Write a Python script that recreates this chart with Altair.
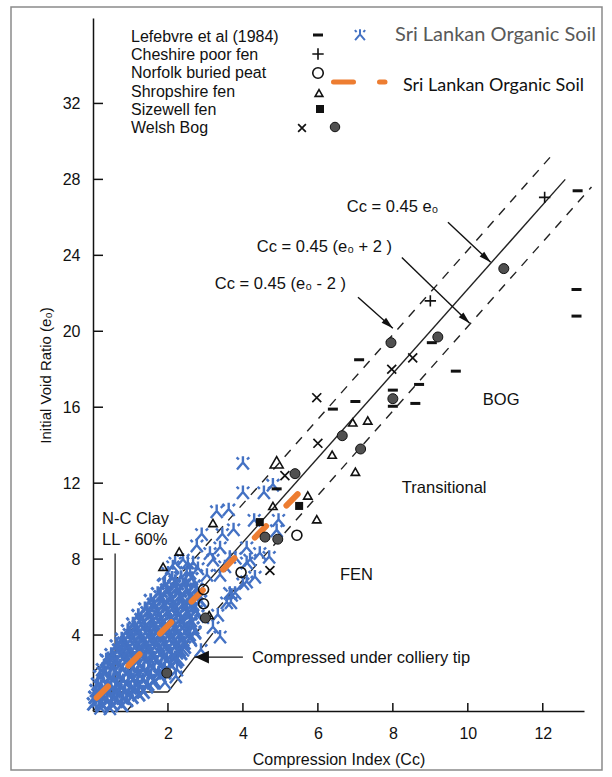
import math
import altair as alt
import pandas as pd

# ---------------- data ----------------
# Sri Lankan organic soil (blue markers): (Cc, e0)
sl_core = [
    (0.02, 0.38), (0.24, 0.31), (0.5, 0.36), (0.77, 0.3),
    (0.12, 0.53), (0.38, 0.57), (0.63, 0.52), (0.9, 0.56),
    (0.06, 0.72), (0.3, 0.66), (0.56, 0.74), (0.8, 0.68), (1.04, 0.73),
    (0.18, 0.88), (0.45, 0.92), (0.71, 0.87), (0.97, 0.91), (1.22, 0.86),
    (0.09, 1.08), (0.34, 1.02), (0.61, 1.1), (0.85, 1.03), (1.11, 1.07), (1.34, 1.0),
    (0.22, 1.27), (0.48, 1.22), (0.74, 1.28), (1.0, 1.23), (1.25, 1.26),
    (0.13, 1.42), (0.41, 1.48), (0.65, 1.43), (0.94, 1.5), (1.19, 1.44), (1.46, 1.41),
    (0.27, 1.6), (0.55, 1.65), (0.81, 1.59), (1.08, 1.64), (1.34, 1.61), (1.62, 1.58),
    (0.19, 1.83), (0.46, 1.78), (0.71, 1.85), (1.01, 1.79), (1.26, 1.84), (1.54, 1.77), (1.79, 1.82),
    (0.33, 2.02), (0.6, 1.97), (0.93, 2.03), (1.2, 1.98), (1.48, 2.04), (1.75, 1.99),
    (0.26, 2.18), (0.53, 2.24), (0.79, 2.17), (1.07, 2.23), (1.36, 2.19), (1.61, 2.25), (1.91, 2.2),
    (0.45, 2.42), (0.71, 2.37), (0.97, 2.43), (1.24, 2.38), (1.53, 2.41), (1.82, 2.36), (2.07, 2.42),
    (0.39, 2.63), (0.63, 2.57), (0.91, 2.64), (1.17, 2.58), (1.42, 2.62), (1.71, 2.56), (1.97, 2.63), (2.21, 2.6),
    (0.55, 2.78), (0.84, 2.83), (1.1, 2.77), (1.38, 2.82), (1.63, 2.79), (1.9, 2.84), (2.2, 2.8),
    (0.49, 2.97), (0.78, 3.03), (1.02, 2.98), (1.31, 3.04), (1.57, 2.99), (1.82, 3.02), (2.11, 2.96), (2.34, 3.03),
    (0.69, 3.22), (0.96, 3.17), (1.23, 3.23), (1.5, 3.18), (1.76, 3.21), (2.04, 3.16), (2.3, 3.22),
    (0.63, 3.43), (0.89, 3.37), (1.16, 3.42), (1.41, 3.38), (1.69, 3.44), (1.94, 3.39), (2.21, 3.42), (2.44, 3.36),
    (0.83, 3.58), (1.1, 3.63), (1.36, 3.57), (1.63, 3.62), (1.89, 3.59), (2.16, 3.64), (2.43, 3.58),
    (0.77, 3.78), (1.05, 3.83), (1.29, 3.77), (1.57, 3.82), (1.81, 3.79), (2.09, 3.84), (2.34, 3.78), (2.59, 3.81),
    (0.98, 4.02), (1.24, 3.97), (1.51, 4.03), (1.77, 3.98), (2.03, 4.01), (2.3, 3.96), (2.57, 4.02),
    (0.93, 4.23), (1.17, 4.18), (1.45, 4.22), (1.69, 4.17), (1.97, 4.24), (2.21, 4.19), (2.49, 4.21), (2.71, 4.16),
    (1.12, 4.38), (1.38, 4.43), (1.64, 4.37), (1.91, 4.42), (2.17, 4.39), (2.43, 4.44), (2.66, 4.38),
    (1.07, 4.58), (1.33, 4.63), (1.57, 4.57), (1.85, 4.62), (2.09, 4.59), (2.37, 4.64), (2.61, 4.58),
    (1.29, 4.82), (1.55, 4.77), (1.8, 4.83), (2.07, 4.78), (2.33, 4.81), (2.6, 4.76),
    (1.21, 5.03), (1.49, 4.98), (1.73, 5.02), (2.01, 4.97), (2.27, 5.04), (2.51, 4.99), (2.79, 5.01),
    (1.45, 5.18), (1.71, 5.23), (1.97, 5.17), (2.24, 5.22), (2.5, 5.19), (2.74, 5.24),
    (1.39, 5.38), (1.63, 5.43), (1.91, 5.37), (2.15, 5.42), (2.43, 5.38), (2.67, 5.41),
    (1.62, 5.62), (1.87, 5.57), (2.13, 5.63), (2.4, 5.58), (2.66, 5.61),
    (1.54, 5.82), (1.81, 5.77), (2.05, 5.83), (2.33, 5.78), (2.57, 5.81), (2.86, 5.79),
    (1.8, 6.02), (2.06, 5.97), (2.32, 6.03), (2.59, 5.98),
    (1.73, 6.18), (1.97, 6.23), (2.25, 6.17), (2.49, 6.22), (2.77, 6.19),
    (1.97, 6.38), (2.23, 6.43), (2.5, 6.37), (2.76, 6.42),
    (1.89, 6.62), (2.17, 6.57), (2.41, 6.63), (2.69, 6.58),
    (2.2, 6.82), (2.48, 6.77),
    (2.11, 6.98), (2.35, 7.03), (2.63, 6.97),
]
sl_scatter = [
    (4.0, 13.05), (4.0, 11.5), (4.56, 11.5), (4.8, 11.9), (3.3, 10.5), (3.62, 10.6),
    (4.3, 10.05), (4.95, 10.05), (2.9, 9.3), (3.45, 9.3), (3.75, 9.55), (4.1, 8.6),
    (4.45, 8.3), (4.7, 8.1), (4.9, 9.5), (2.67, 7.8), (3.2, 7.95), (3.52, 7.6),
    (3.8, 8.05), (4.19, 7.95), (2.59, 7.26), (3.04, 7.15), (2.77, 8.7), (3.12, 8.3),
    (3.39, 8.6), (3.65, 8.1), (4.1, 7.8), (4.32, 7.05), (4.0, 6.7), (3.65, 6.2),
    (3.57, 5.7), (3.33, 5.05), (3.2, 4.4), (2.4, 3.2), (2.24, 2.16), (1.6, 1.47),
    (1.44, 1.26), (2.13, 7.6), (2.5, 7.3), (2.4, 7.95), (1.92, 6.7), (2.53, 7.8),
    (2.8, 7.5), (3.79, 6.2), (3.68, 5.7), (3.39, 3.9), (2.88, 3.2), (2.72, 4.1),
    (2.27, 2.7), (2.21, 1.8), (1.92, 1.47), (0.21, 0.42), (0.05, 0.74), (0.35, 2.7),
    (0.27, 2.0), (0.75, 3.58), (2.0, 7.26), (2.19, 7.8), (4.1, 6.8), (3.7, 6.1),
    (3.39, 7.15), (2.24, 3.05), (0.2, 0.15), (0.45, 0.12),
]

# Published data sets
lef_x = [12.93, 12.9, 12.9, 9.04, 7.1, 9.68, 8.7, 8.0, 8.0, 8.6, 6.4, 7.0, 4.9]
lef_y = [27.4, 22.2, 20.8, 19.4, 18.5, 17.9, 17.2, 16.9, 16.05, 16.2, 15.9, 16.3, 11.7]
ches_x = [12.05, 9.0]
ches_y = [27.05, 21.6]
norf_x = [5.44, 3.95, 2.95, 2.95]
norf_y = [9.26, 7.3, 6.4, 5.65]
shrop_x = [6.93, 7.33, 6.38, 7.0, 5.73, 5.97, 4.8, 3.2, 2.3, 1.87, 3.1]
shrop_y = [15.2, 15.3, 13.5, 12.6, 11.35, 10.1, 10.8, 9.9, 8.4, 7.6, 5.05]
shrop_big_x = [4.9]
shrop_big_y = [13.1]
size_x = [5.5, 4.45]
size_y = [10.8, 9.95]
welx_x = [5.97, 8.53, 7.97, 6.0, 5.12, 4.72]
welx_y = [16.5, 18.6, 18.0, 14.1, 12.4, 7.4]
weld_x = [10.96, 7.95, 9.2, 8.0, 6.65, 7.14, 5.39, 4.59, 4.93, 3.0, 1.97]
weld_y = [23.3, 19.4, 19.7, 16.45, 14.5, 13.8, 12.5, 9.16, 9.05, 4.9, 2.0]

# Sri Lankan trend line (orange dashed)
orange_x = [0.1, 5.55]
orange_y = [0.7, 11.6]

# Reference lines (end points)
solid_x1, solid_y1, solid_x2, solid_y2 = [0.0], [0.0], [12.6], [28.0]
dash_x1 = [0.0, 0.9]
dash_y1 = [2.0, 0.0]
dash_x2 = [12.3, 13.3]
dash_y2 = [29.4, 27.6]
# colliery-tip boundary and N-C clay pointer
thin_x1 = [0.0, 2.0, 0.59]
thin_y1 = [1.0, 1.0, 8.3]
thin_x2 = [2.0, 3.2, 0.59]
thin_y2 = [1.0, 4.1, 1.0]

# annotation arrows (tail -> tip)
arr_x1 = [9.47, 8.24, 7.07, 4.0]
arr_y1 = [25.74, 23.89, 21.79, 2.84]
arr_x2 = [10.61, 10.05, 8.0, 2.72]
arr_y2 = [23.63, 20.42, 20.16, 2.84]
arr_big = [0, 0, 0, 1]

ann_text = ["Cc = 0.45 e₀", "Cc = 0.45 (e₀ + 2 )", "Cc = 0.45 (e₀ - 2 )", "BOG",
            "Transitional", "FEN", "Compressed under colliery tip", "N-C Clay", "LL - 60%"]
ann_x = [6.77, 4.37, 3.25, 10.4, 8.24, 6.59, 4.24, 0.24, 0.24]
ann_y = [26.53, 24.42, 22.47, 16.37, 11.74, 7.16, 2.79, 10.1, 9.0]

x_ticks = [2, 4, 6, 8, 10, 12]
y_ticks = [4, 8, 12, 16, 20, 24, 28, 32]

legend_labels = ["Lefebvre et al (1984)", "Cheshire poor fen", "Norfolk buried peat",
                 "Shropshire fen", "Sizewell fen", "Welsh Bog"]

# ---------------- layout ----------------
W, H = 491, 693
PADL, PADT = 93, 18
XMAX, YMAX = 13.1, 36.5
PXX = W / XMAX
PXY = H / YMAX
FONT = "Liberation Sans"
TXT = "#111111"
BLUE = "#4472C4"
ORANGE = "#ED7D31"


def px2x(px):
    return (px - PADL) / PXX


def px2y(py):
    return (PADT + H - py) / PXY


xscale = alt.Scale(domain=[0, XMAX], nice=False, zero=False)
yscale = alt.Scale(domain=[0, YMAX], nice=False, zero=False)
xaxis = alt.Axis(values=x_ticks, title="Compression Index (Cc)", ticks=False, grid=False,
                 domainColor="#111", domainWidth=1.5, labelFont=FONT, labelFontSize=16,
                 labelColor=TXT, labelPadding=14, titleFont=FONT, titleFontSize=16,
                 titleFontWeight="normal", titleColor=TXT, titlePadding=10)
yaxis = alt.Axis(values=y_ticks, title="Initial Void Ratio (e₀)", ticks=False, grid=False,
                 domainColor="#111", domainWidth=1.5, labelFont=FONT, labelFontSize=16,
                 labelColor=TXT, labelPadding=13, titleFont=FONT, titleFontSize=15,
                 titleFontWeight="normal", titleColor=TXT, titleX=-48, titleY=357,
                 titleBaseline="middle", titleAlign="center")

X = alt.X("x:Q", scale=xscale, axis=xaxis)
Y = alt.Y("y:Q", scale=yscale, axis=yaxis)


def pts(xs, ys):
    return pd.DataFrame({"x": xs, "y": ys})


def segs(x1, y1, x2, y2):
    return pd.DataFrame({"x": x1, "y": y1, "x2": x2, "y2": y2})


layers = []

# outer frame
frame = alt.Chart(pd.DataFrame({"a": [0]})).mark_rect(
    fillOpacity=0, stroke="#8a8a8a", strokeWidth=1.5
).encode(x=alt.value(11 - PADL), x2=alt.value(602 - PADL),
         y=alt.value(7 - PADT), y2=alt.value(770 - PADT))
layers.append(frame)

# inward ticks
xt = alt.Chart(segs(x_ticks, [0] * 6, x_ticks, [8 / PXY] * 6)).mark_rule(
    color="#111", strokeWidth=1.5).encode(x=X, y=Y, x2="x2:Q", y2="y2:Q")
yt = alt.Chart(segs([0] * 8, y_ticks, [10 / PXX] * 8, y_ticks)).mark_rule(
    color="#111", strokeWidth=1.5).encode(x=X, y=Y, x2="x2:Q", y2="y2:Q")
layers += [xt, yt]

# reference lines
layers.append(alt.Chart(segs(solid_x1, solid_y1, solid_x2, solid_y2)).mark_rule(
    color="#222", strokeWidth=1.4).encode(x=X, y=Y, x2="x2:Q", y2="y2:Q"))
layers.append(alt.Chart(segs(dash_x1, dash_y1, dash_x2, dash_y2)).mark_rule(
    color="#222", strokeWidth=1.4, strokeDash=[9, 8]).encode(x=X, y=Y, x2="x2:Q", y2="y2:Q"))
layers.append(alt.Chart(segs(thin_x1, thin_y1, thin_x2, thin_y2)).mark_rule(
    color="#222", strokeWidth=1.3).encode(x=X, y=Y, x2="x2:Q", y2="y2:Q"))

# Sri Lankan points
BLUE_SHAPE = ("M0,-0.95L0,-0.1M0,-0.1L-0.8,0.85M0,-0.1L0.8,0.85"
              "M-0.85,-0.8L-0.55,-0.5M0.85,-0.8L0.55,-0.5")
layers.append(alt.Chart(pts([p[0] for p in sl_core], [p[1] for p in sl_core])).mark_point(
    shape=BLUE_SHAPE, size=240, color=BLUE, strokeWidth=2.9, opacity=1, filled=False
).encode(x=X, y=Y))
layers.append(alt.Chart(pts([p[0] for p in sl_scatter], [p[1] for p in sl_scatter])).mark_point(
    shape=BLUE_SHAPE, size=220, color=BLUE, strokeWidth=2.4, opacity=1, filled=False
).encode(x=X, y=Y))

# orange trend
layers.append(alt.Chart(segs([orange_x[0]], [orange_y[0]], [orange_x[1]], [orange_y[1]])).mark_rule(
    color=ORANGE, strokeWidth=6, strokeDash=[16, 29], strokeCap="round"
).encode(x=X, y=Y, x2="x2:Q", y2="y2:Q"))

# black data markers
DASH_SHAPE = "M-1,-0.3H1V0.3H-1Z"
PLUS_SHAPE = "M-1,0H1M0,-1V1"
CROSS_SHAPE = "M-1,-1L1,1M-1,1L1,-1"


def black_layer(xs, ys, **kw):
    return alt.Chart(pts(xs, ys)).mark_point(opacity=1, **kw).encode(x=X, y=Y)


layers.append(black_layer(lef_x, lef_y, shape=DASH_SHAPE, size=100, filled=True, color="#111"))
layers.append(black_layer(ches_x, ches_y, shape=PLUS_SHAPE, size=130, filled=False, color="#111", strokeWidth=1.6))
layers.append(black_layer(norf_x, norf_y, shape="circle", size=100, filled=False, color="#111", strokeWidth=1.6))
layers.append(black_layer(shrop_x, shrop_y, shape="triangle-up", size=70, filled=False, color="#111", strokeWidth=1.6))
layers.append(black_layer(shrop_big_x, shrop_big_y, shape="triangle-up", size=170, filled=False, color="#111", strokeWidth=1.6))
layers.append(black_layer(size_x, size_y, shape="square", size=64, filled=True, color="#111"))
layers.append(black_layer(welx_x, welx_y, shape=CROSS_SHAPE, size=80, filled=False, color="#111", strokeWidth=1.7))
layers.append(alt.Chart(pts(weld_x, weld_y)).mark_point(
    shape="circle", size=100, filled=True, fill="#505050", stroke="#111", strokeWidth=1, opacity=1
).encode(x=X, y=Y))

# arrows
arr = segs(arr_x1, arr_y1, arr_x2, arr_y2)
arr["ang"] = [(math.degrees(math.atan2((b - a) * PXX, (d - c) * PXY)) % 360)
              for a, b, c, d in zip(arr_x1, arr_x2, arr_y1, arr_y2)]
arr["big"] = arr_big
layers.append(alt.Chart(arr).mark_rule(color="#111", strokeWidth=1.4).encode(
    x=X, y=Y, x2="x2:Q", y2="y2:Q"))
head = arr[["x2", "y2", "ang", "big"]].rename(columns={"x2": "x", "y2": "y"})
layers.append(alt.Chart(head[head.big == 0]).mark_point(
    shape="M0,0L-0.28,1L0.28,1Z", size=576, filled=True, color="#111", opacity=1
).encode(x=X, y=Y, angle=alt.Angle("ang:Q", scale=None)))
layers.append(alt.Chart(head[head.big == 1]).mark_point(
    shape="M0,0L-0.45,1L0.45,1Z", size=784, filled=True, color="#111", opacity=1
).encode(x=X, y=Y, angle=alt.Angle("ang:Q", scale=None)))

# annotations
layers.append(alt.Chart(pd.DataFrame({"x": ann_x, "y": ann_y, "t": ann_text})).mark_text(
    align="left", baseline="middle", font=FONT, fontSize=16.5, color=TXT
).encode(x=X, y=Y, text="t:N"))

# ---------------- legend (drawn inside the plot) ----------------
rows_py = [37, 55, 73, 91.5, 110, 128]
layers.append(alt.Chart(pd.DataFrame({
    "x": [px2x(131)] * 6, "y": [px2y(p) for p in rows_py], "t": legend_labels})).mark_text(
    align="left", baseline="middle", font=FONT, fontSize=16, color=TXT
).encode(x=X, y=Y, text="t:N"))
layers.append(black_layer([px2x(318)], [px2y(35)], shape=DASH_SHAPE, size=100, filled=True, color="#111"))
layers.append(black_layer([px2x(318)], [px2y(54)], shape=PLUS_SHAPE, size=130, filled=False, color="#111", strokeWidth=1.6))
layers.append(black_layer([px2x(318)], [px2y(73)], shape="circle", size=110, filled=False, color="#111", strokeWidth=1.6))
layers.append(black_layer([px2x(319)], [px2y(93)], shape="triangle-up", size=60, filled=False, color="#111", strokeWidth=1.6))
layers.append(black_layer([px2x(320)], [px2y(109)], shape="square", size=64, filled=True, color="#111"))
layers.append(black_layer([px2x(302)], [px2y(128)], shape=CROSS_SHAPE, size=60, filled=False, color="#111", strokeWidth=1.7))
layers.append(alt.Chart(pts([px2x(335)], [px2y(127)])).mark_point(
    shape="circle", size=90, filled=True, fill="#505050", stroke="#111", strokeWidth=1, opacity=1
).encode(x=X, y=Y))
layers.append(alt.Chart(pts([px2x(360)], [px2y(35)])).mark_point(
    shape=BLUE_SHAPE, size=150, color=BLUE, strokeWidth=2.0, opacity=1, filled=False
).encode(x=X, y=Y))
layers.append(alt.Chart(pd.DataFrame({"x": [px2x(395)], "y": [px2y(35)], "t": ["Sri Lankan Organic Soil"]})).mark_text(
    align="left", baseline="middle", font="Lato", fontSize=20, color="#595959"
).encode(x=X, y=Y, text="t:N"))
layers.append(alt.Chart(segs([px2x(333.5)], [px2y(82)], [px2x(385)], [px2y(82)])).mark_rule(
    color=ORANGE, strokeWidth=5, strokeDash=[20, 26], strokeCap="round"
).encode(x=X, y=Y, x2="x2:Q", y2="y2:Q"))
layers.append(alt.Chart(pd.DataFrame({"x": [px2x(403)], "y": [px2y(86)], "t": ["Sri Lankan Organic Soil"]})).mark_text(
    align="left", baseline="middle", font="Lato", fontSize=18, color="#111"
).encode(x=X, y=Y, text="t:N"))

chart = alt.layer(*layers).properties(
    width=W, height=H,
    autosize=alt.AutoSizeParams(type="none"),
    padding={"left": PADL, "top": PADT, "right": 612 - PADL - W, "bottom": 777 - PADT - H},
    background="white",
).configure_view(stroke=None)

chart.save("out.html", embed_options={"renderer": "svg", "actions": False})
